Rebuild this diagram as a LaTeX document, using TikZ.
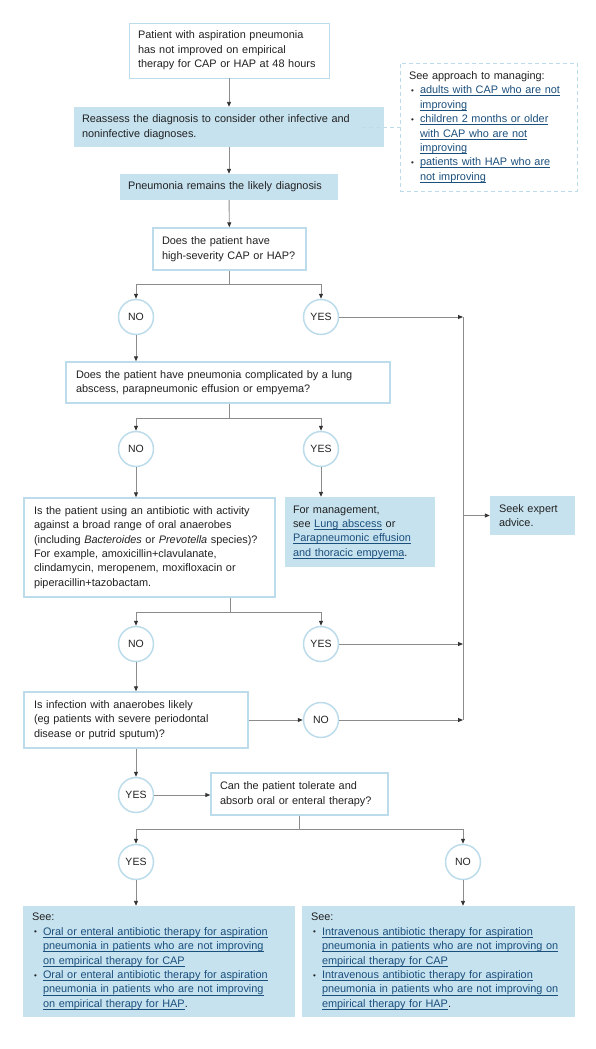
\documentclass[tikz,border=0pt]{standalone}
\usepackage{fontspec}
\setmainfont{Liberation Sans}
\usetikzlibrary{positioning,arrows.meta}

\definecolor{boxfill}{HTML}{C6E2EF}
\definecolor{boxline}{HTML}{BCDCEB}
\definecolor{linkblue}{HTML}{1B4F7C}
\definecolor{inkgray}{HTML}{222222}
\newcommand{\lnk}[1]{\leavevmode{\color{linkblue}\setbox0\hbox{#1}\rlap{\rule[-2.2pt]{\wd0}{0.55pt}}\box0}}
\newcommand{\bul}{\hspace*{2pt}\makebox[9pt][l]{\raisebox{0.4pt}{\footnotesize\textbullet}}}
\newcommand{\ind}{\hspace*{11pt}}

\begin{document}
\begin{tikzpicture}[
  x=1pt, y=-1pt,
  font=\fontsize{10.9}{14.4}\selectfont, text=inkgray,
  box/.style={rectangle, inner xsep=9pt, inner ysep=2pt, align=left},
  wbox/.style={box, draw=boxline, line width=1.4pt, fill=white},
  fbox/.style={box, fill=boxfill},
  dbox/.style={box, draw=boxline, dash pattern=on 4pt off 3pt, line width=0.8pt},
  ans/.style={circle, draw=boxline, line width=1.5pt, fill=white, minimum size=35pt, inner sep=0pt,
              font=\fontsize{10.5}{12}\selectfont},
  ln/.style={draw=black!45, line width=0.9pt},
  arr/.style={ln, -{Triangle[length=5pt,width=4pt,color=black!80]}}
]
\useasboundingbox (0,0) rectangle (595,1049);

\node[wbox, line width=0.8pt, text width=182pt, minimum height=55pt] (start) at (229,50.5)
  {Patient with aspiration pneumonia\\has not improved on empirical\\therapy for CAP or HAP at 48 hours};
\node[fbox, inner xsep=8pt, text width=294pt, minimum height=40pt] (ra) at (229,127)
  {Reassess the diagnosis to consider other infective and\\noninfective diagnoses.};
\node[dbox, text width=159pt, minimum height=128pt] (see) at (488.5,127)
  {See approach to managing:\\
   \bul\lnk{adults with CAP who are not}\\
   \ind\lnk{improving}\\
   \bul\lnk{children 2 months or older}\\
   \ind\lnk{with CAP who are not}\\
   \ind\lnk{improving}\\
   \bul\lnk{patients with HAP who are}\\
   \ind\lnk{not improving}};
\node[fbox, inner xsep=8pt, text width=202pt, minimum height=26pt] (pn) at (229,187)
  {Pneumonia remains the likely diagnosis};
\node[wbox, text width=135pt, minimum height=42pt] (q1) at (229.5,249)
  {Does the patient have\\high-severity CAP or HAP?};
\node[ans] (n1) at (136,317) {NO};
\node[ans] (y1) at (321,317) {YES};
\node[wbox, inner xsep=10pt, text width=304pt, minimum height=41pt] (q2) at (228,382.5)
  {Does the patient have pneumonia complicated by a lung\\abscess, parapneumonic effusion or empyema?};
\node[ans] (n2) at (136,449) {NO};
\node[ans] (y2) at (321,449) {YES};
\node[wbox, inner xsep=10pt, text width=231pt, minimum height=99pt] (q3) at (149.5,547.5)
  {Is the patient using an antibiotic with activity\\against a broad range of oral anaerobes\\(including \textit{Bacteroides} or \textit{Prevotella} species)?\\For example, amoxicillin+clavulanate,\\clindamycin, meropenem, moxifloxacin or\\piperacillin+tazobactam.};
\node[fbox, inner xsep=8pt, text width=134pt, minimum height=70pt] (mg) at (360,532)
  {For management,\\see \lnk{Lung abscess} or\\\lnk{Parapneumonic effusion}\\\lnk{and thoracic empyema}.};
\node[fbox, text width=67pt, minimum height=39pt] (sk) at (532.5,515.5)
  {Seek expert\\advice.};
\node[ans] (n3) at (136,644) {NO};
\node[ans] (y3) at (321,644) {YES};
\node[wbox, inner xsep=10pt, text width=204pt, minimum height=56pt] (q4) at (136,720)
  {Is infection with anaerobes likely\\(eg patients with severe periodontal\\disease or putrid sputum)?};
\node[ans] (n4) at (321,720) {NO};
\node[ans] (y4) at (136,795) {YES};
\node[wbox, text width=159pt, minimum height=42pt] (q5) at (299.5,794)
  {Can the patient tolerate and\\absorb oral or enteral therapy?};
\node[ans] (y5) at (136,862) {YES};
\node[ans] (n5) at (463,862) {NO};
\node[fbox, text width=254pt, minimum height=111pt] (lb) at (159,961.5)
  {See:\\
   \bul\lnk{Oral or enteral antibiotic therapy for aspiration}\\
   \ind\lnk{pneumonia in patients who are not improving}\\
   \ind\lnk{on empirical therapy for CAP}\\
   \bul\lnk{Oral or enteral antibiotic therapy for aspiration}\\
   \ind\lnk{pneumonia in patients who are not improving}\\
   \ind\lnk{on empirical therapy for HAP}.};
\node[fbox, text width=255pt, minimum height=111pt] (rb) at (438.5,961.5)
  {See:\\
   \bul\lnk{Intravenous antibiotic therapy for aspiration}\\
   \ind\lnk{pneumonia in patients who are not improving on}\\
   \ind\lnk{empirical therapy for CAP}\\
   \bul\lnk{Intravenous antibiotic therapy for aspiration}\\
   \ind\lnk{pneumonia in patients who are not improving on}\\
   \ind\lnk{empirical therapy for HAP}.};

\coordinate (j1) at (229.5,284);
\coordinate (j2) at (229,418);
\coordinate (j3) at (230,612);
\coordinate (j5) at (299.5,829);
\coordinate (r1) at (463,317);
\coordinate (r2) at (463,720);

\draw[arr] (start) -- (ra);
\draw[arr] (ra) -- (pn);
\draw[arr] (pn) -- (q1);
\draw[ln, line width=0.6pt, draw=boxline, dash pattern=on 4pt off 3pt] ([xshift=-22pt]ra.east) -- (see.west);

\draw[ln] (q1.south) -- (j1);
\draw[arr] (j1) -| (n1);
\draw[arr] (j1) -| (y1);
\draw[arr] (n1) -- (n1 |- q2.north);
\draw[arr] (y1) -- (r1);
\draw[ln] (r1) -- (r2);
\draw[arr] (r1 |- sk.west) -- (sk.west);

\draw[ln] (q2.south -| j2) -- (j2);
\draw[arr] (j2) -| (n2);
\draw[arr] (j2) -| (y2);
\draw[arr] (n2) -- (n2 |- q3.north);
\draw[arr] (y2) -- (y2 |- mg.north);

\draw[ln] (q3.south -| j3) -- (j3);
\draw[arr] (j3) -| (n3);
\draw[arr] (j3) -| (y3);
\draw[arr] (y3) -- (y3 -| r1);
\draw[arr] (n3) -- (n3 |- q4.north);

\draw[arr] (q4.east) -- (n4);
\draw[arr] (n4) -- (r2);
\draw[arr] (q4.south -| y4) -- (y4);
\draw[arr] (y4) -- (y4 -| q5.west);

\draw[ln] (q5.south) -- (j5);
\draw[arr] (j5) -| (y5);
\draw[arr] (j5) -| (n5);
\draw[arr] (y5) -- (y5 |- lb.north);
\draw[arr] (n5) -- (n5 |- rb.north);
\end{tikzpicture}
\end{document}
